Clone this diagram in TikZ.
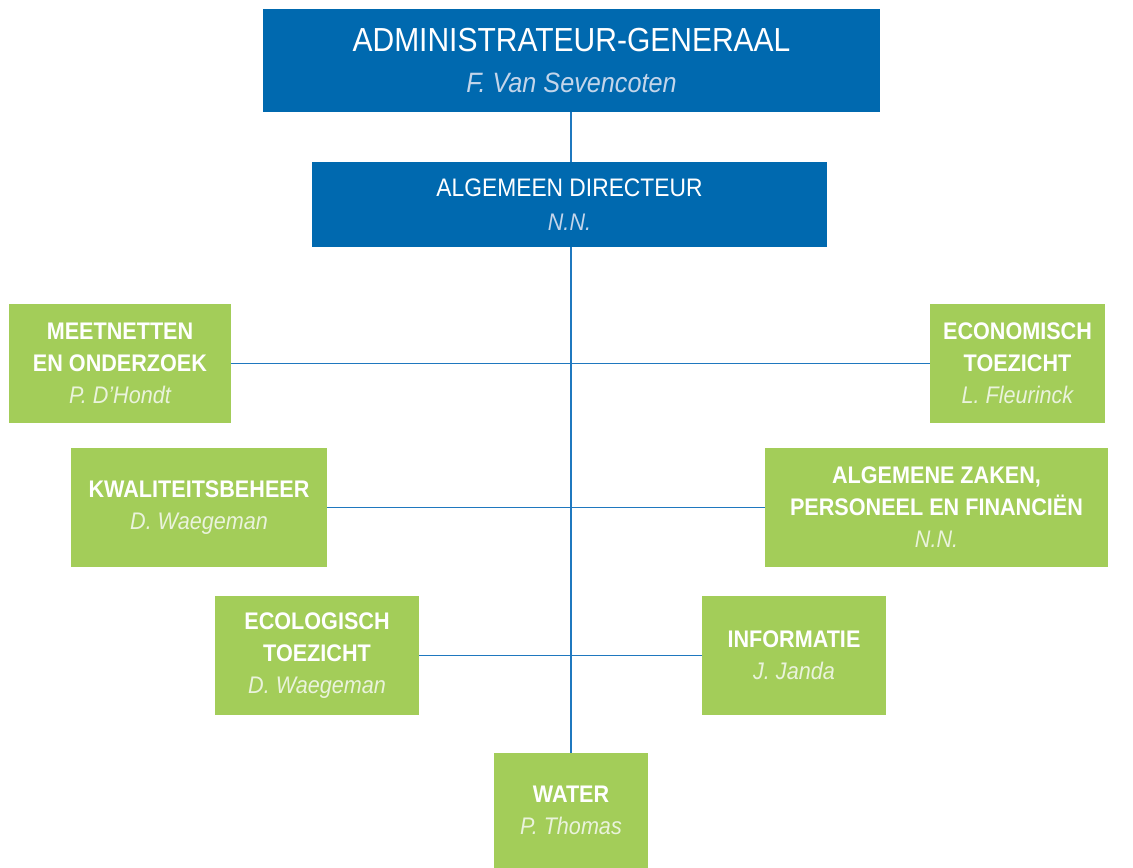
\documentclass[tikz,border=0pt]{standalone}
\usepackage{fontspec}
\setmainfont{Liberation Sans}[FakeStretch=0.9]
\usepackage{tikz}
\usetikzlibrary{positioning}

\definecolor{boardblue}{HTML}{0069AF}
\definecolor{deptgreen}{HTML}{A3CD59}
\definecolor{linkblue}{HTML}{1F78BF}
\definecolor{bluename}{HTML}{C3D5EA}
\definecolor{greenname}{HTML}{EAF3DC}

\begin{document}
\begin{tikzpicture}[
    x=0.75pt, y=-0.75pt,
    board/.style={rectangle, fill=boardblue, text=white, align=center, inner sep=0pt},
    dept/.style={rectangle, fill=deptgreen, text=white, align=center, inner sep=0pt,
        minimum height=119*0.75pt, font=\fontsize{18}{24}\selectfont\bfseries},
    link/.style={line width=1.4pt, draw=linkblue},
]

    \useasboundingbox (0,0) rectangle (1133,868);

    % % Top
    \node[board, minimum width=617*0.75pt, minimum height=103*0.75pt,
          font=\fontsize{25}{31}\selectfont] (ag) at (571.5,60.5)
        {ADMINISTRATEUR-GENERAAL\\{\fontsize{21}{31}\selectfont\itshape\color{bluename}F. Van Sevencoten}};
    \node[board, minimum width=515*0.75pt, minimum height=85*0.75pt,
          font=\fontsize{19}{25}\selectfont] (ad) at (569.5,204.5)
        {ALGEMEEN DIRECTEUR\\{\fontsize{18}{25}\selectfont\itshape\color{bluename}N.N.}};

    % % Departments
    \node[dept, minimum width=222*0.75pt] (meet) at (120,363.5)
        {MEETNETTEN\\EN ONDERZOEK\\{\mdseries\itshape\color{greenname}P. D'Hondt}};
    \node[dept, minimum width=175*0.75pt] (econ) at (1017.5,363.5)
        {ECONOMISCH\\TOEZICHT\\{\mdseries\itshape\color{greenname}L. Fleurinck}};
    \node[dept, minimum width=256*0.75pt] (kwal) at (199,507.5)
        {KWALITEITSBEHEER\\{\mdseries\itshape\color{greenname}D. Waegeman}};
    \node[dept, minimum width=343*0.75pt] (azpf) at (936.5,507.5)
        {ALGEMENE ZAKEN,\\PERSONEEL EN FINANCIËN\\{\mdseries\itshape\color{greenname}N.N.}};
    \node[dept, minimum width=204*0.75pt] (eco) at (317,655.5)
        {ECOLOGISCH\\TOEZICHT\\{\mdseries\itshape\color{greenname}D. Waegeman}};
    \node[dept, minimum width=184*0.75pt] (info) at (794,655.5)
        {INFORMATIE\\{\mdseries\itshape\color{greenname}J. Janda}};
    \node[dept, minimum width=154*0.75pt, minimum height=115*0.75pt] (water) at (571,810.5)
        {WATER\\{\mdseries\itshape\color{greenname}P. Thomas}};

    % Lines
    \draw[link] (ag.south -| water.north) -- (ad.north -| water.north);
    \draw[link] (ad.south -| water.north) -- (water.north);
    \draw[link] (meet) -- (econ);
    \draw[link] (kwal) -- (azpf);
    \draw[link] (eco) -- (info);

\end{tikzpicture}
\end{document}
